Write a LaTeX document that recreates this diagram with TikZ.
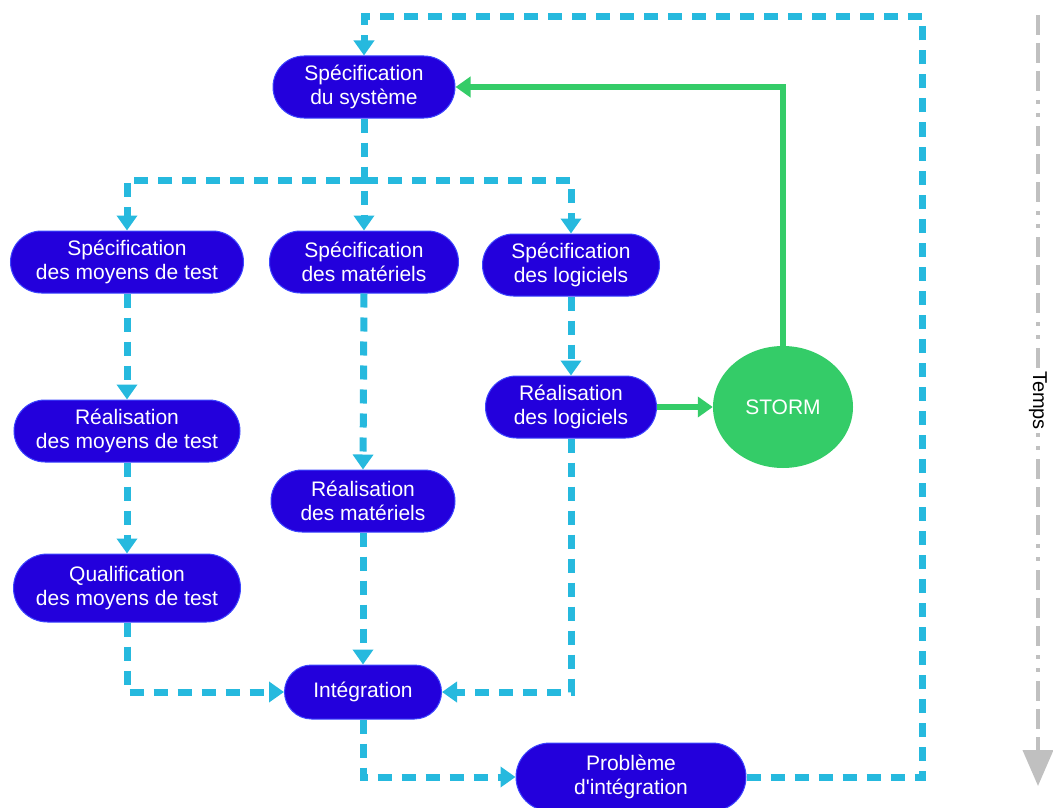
\documentclass[tikz,border=0pt]{standalone}
\usepackage{fontspec}
\newfontfamily\police{Liberation Sans}
\usetikzlibrary{positioning}
\usetikzlibrary{shapes.misc,shapes.geometric}
\usetikzlibrary{arrows.meta}
\definecolor{boite}{RGB}{35,0,220}
\definecolor{bordboite}{RGB}{60,70,255}
\definecolor{cyanflux}{RGB}{38,185,222}
\definecolor{vertstorm}{RGB}{52,204,104}
\definecolor{gristemps}{RGB}{192,192,192}
\tikzstyle{etape} = [rounded rectangle, draw=bordboite, line width=1pt, fill=boite, text=white, align=center, inner sep=0pt, minimum height=62pt, font=\police\fontsize{21}{24}\selectfont]
\tikzstyle{fleche} = [draw=cyanflux, line width=7pt, dash pattern=on 14pt off 10pt, -{Triangle[length=15pt,width=20pt]}]
\tikzstyle{retour} = [draw=vertstorm, line width=6pt, -{Triangle[length=15pt,width=20pt]}]
\tikzstyle{axetemps} = [draw=gristemps, line width=4pt, dash pattern=on 20pt off 8pt on 20pt off 8pt on 20pt off 9pt on 4pt off 9pt on 4pt off 9pt, -{Triangle[length=36pt,width=30pt]}]

\begin{document}
\begin{tikzpicture}[x=1pt, y=-1pt]
    \useasboundingbox (0,0) rectangle (1053,808);
    \node[etape, minimum width=182pt](sys) at (364,87) {Spécification\\du système};
    \node[etape, minimum width=233pt](spmt) at (127,262) {Spécification\\des moyens de test};
    \node[etape, minimum width=189pt](spmat) at (364,262) {Spécification\\des matériels};
    \node[etape, minimum width=177pt](splog) at (571,265) {Spécification\\des logiciels};
    \node[etape, minimum width=226pt](rmt) at (127,431) {Réalisation\\des moyens de test};
    \node[etape, minimum width=171pt](rlog) at (571,407) {Réalisation\\des logiciels};
    \node[etape, minimum width=184pt](rmat) at (363,501) {Réalisation\\des matériels};
    \node[etape, minimum width=227pt, minimum height=68pt](qmt) at (127,588) {Qualification\\des moyens de test};
    \node[etape, minimum width=157pt, minimum height=54pt](integ) at (363,692) {Intégration};
    \node[etape, minimum width=230pt, minimum height=68pt](pb) at (631,777) {Problème\\d'intégration};
    \node[ellipse, fill=vertstorm, text=white, inner sep=0pt, minimum width=140pt, minimum height=122pt, font=\police\fontsize{21}{24}\selectfont](storm) at (783,407) {STORM};

    \coordinate (bouclehaut) at (922,17);
    \coordinate (bouclebas) at (922,777);
    \coordinate (branche) at (364,180);
    \coordinate (tdeb) at (1038,15);
    \coordinate (tfin) at (1038,786);

    \draw[fleche] (pb.east) -- (bouclebas) -- (bouclehaut) -- (sys.north |- bouclehaut) -- (sys.north);
    \draw[fleche] (sys.south) -- (spmat.north);
    \draw[fleche] (branche) -| (spmt.north);
    \draw[fleche] (branche) -| (splog.north);
    \draw[fleche] (spmt.south) -- (rmt.north);
    \draw[fleche] (rmt.south) -- (qmt.north);
    \draw[fleche] (qmt.south) |- (integ.west);
    \draw[fleche] (spmat.south) -- (rmat.north);
    \draw[fleche] (rmat.south) -- (integ.north);
    \draw[fleche] (splog.south) -- (rlog.north);
    \draw[fleche] (rlog.south) |- (integ.east);
    \draw[fleche] (integ.south) |- (pb.west);

    \draw[retour] (rlog.east) -- (storm.west);
    \draw[retour] (storm.north) |- (sys.east);

    \draw[axetemps] (tdeb) -- (tfin) node[midway, fill=white, inner sep=1pt, rotate=-90, font=\police\fontsize{20}{22}\selectfont] (temps) {Temps};
\end{tikzpicture}
\end{document}
